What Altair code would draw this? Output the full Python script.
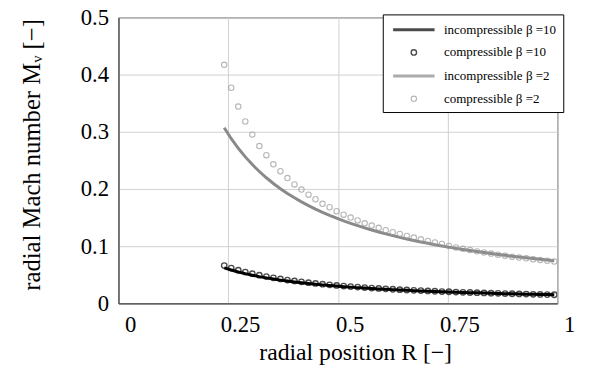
import altair as alt
import pandas as pd

# radial positions R of the sample points
R = [0.241, 0.257, 0.273, 0.289, 0.305, 0.321, 0.337, 0.353, 0.369, 0.385,
     0.401, 0.417, 0.433, 0.449, 0.465, 0.481, 0.497, 0.513, 0.529, 0.545,
     0.561, 0.577, 0.593, 0.609, 0.625, 0.641, 0.657, 0.673, 0.689, 0.705,
     0.721, 0.737, 0.753, 0.769, 0.785, 0.801, 0.817, 0.833, 0.849, 0.865,
     0.881, 0.897, 0.913, 0.929, 0.945, 0.961, 0.977, 0.993]

inc10 = [0.0622, 0.0584, 0.0549, 0.0519, 0.0492, 0.0467, 0.0445, 0.0425, 0.0407, 0.0390,
         0.0374, 0.0360, 0.0346, 0.0334, 0.0323, 0.0312, 0.0302, 0.0292, 0.0284, 0.0275,
         0.0267, 0.0260, 0.0253, 0.0246, 0.0240, 0.0234, 0.0228, 0.0223, 0.0218, 0.0213,
         0.0208, 0.0204, 0.0199, 0.0195, 0.0191, 0.0187, 0.0184, 0.0180, 0.0177, 0.0173,
         0.0170, 0.0167, 0.0164, 0.0161, 0.0159, 0.0156, 0.0154, 0.0151]

comp10 = [0.0660, 0.0618, 0.0581, 0.0548, 0.0519, 0.0492, 0.0468, 0.0446, 0.0427, 0.0408,
          0.0392, 0.0376, 0.0362, 0.0348, 0.0336, 0.0324, 0.0313, 0.0303, 0.0294, 0.0285,
          0.0276, 0.0268, 0.0261, 0.0254, 0.0247, 0.0240, 0.0234, 0.0228, 0.0223, 0.0217,
          0.0212, 0.0207, 0.0203, 0.0198, 0.0194, 0.0190, 0.0186, 0.0182, 0.0178, 0.0175,
          0.0171, 0.0168, 0.0165, 0.0162, 0.0159, 0.0156, 0.0153, 0.0151]

inc2 = [0.3071, 0.2879, 0.2711, 0.2561, 0.2426, 0.2305, 0.2196, 0.2096, 0.2005, 0.1922,
        0.1845, 0.1775, 0.1709, 0.1648, 0.1591, 0.1538, 0.1489, 0.1442, 0.1399, 0.1358,
        0.1319, 0.1282, 0.1248, 0.1215, 0.1184, 0.1154, 0.1126, 0.1100, 0.1074, 0.1050,
        0.1026, 0.1004, 0.0983, 0.0962, 0.0943, 0.0924, 0.0906, 0.0888, 0.0872, 0.0855,
        0.0840, 0.0825, 0.0810, 0.0797, 0.0783, 0.0770, 0.0757, 0.0745]

comp2 = [0.417, 0.377, 0.344, 0.318, 0.295, 0.275, 0.259, 0.243, 0.231, 0.219,
         0.208, 0.199, 0.190, 0.182, 0.174, 0.168, 0.161, 0.155, 0.150, 0.145,
         0.140, 0.136, 0.132, 0.128, 0.1245, 0.1215, 0.118, 0.115, 0.112, 0.109,
         0.1065, 0.104, 0.1005, 0.0978, 0.0954, 0.0931, 0.0909, 0.0890, 0.0870, 0.0852,
         0.0834, 0.0817, 0.0802, 0.0787, 0.0772, 0.0759, 0.0745, 0.0732]

series_names = ["incompressible β =10", "compressible β =10",
                "incompressible β =2", "compressible β =2"]

rows = []
for name, kind, vals in [(series_names[0], "line", inc10),
                         (series_names[1], "point", comp10),
                         (series_names[2], "line", inc2),
                         (series_names[3], "point", comp2)]:
    for r, m in zip(R, vals):
        rows.append({"R": r, "M": m, "series": name, "kind": kind})
df = pd.DataFrame(rows)

FONT = "Liberation Serif"
LINE_SYMBOL = "M-3,0L3,0"

color = alt.Color("series:N", title=None,
                  scale=alt.Scale(domain=series_names, type="ordinal",
                                  range=["#000000", "#000000", "#8a8a8a", "#999999"]))
sw = alt.StrokeWidth("series:N", title=None,
                     scale=alt.Scale(domain=series_names, type="ordinal",
                                     range=[3, 1.4, 3, 1.1]))

x = alt.X("R:Q", title="radial position R [−]",
          scale=alt.Scale(domain=[0, 1], nice=False, zero=False),
          axis=alt.Axis(values=[0, 0.25, 0.5, 0.75, 1],
                        labelExpr="format(datum.value, '.2~f')",
                        labelFont=FONT, titleFont=FONT,
                        labelOffset=12, labelPadding=11, labelFlush=False,
                        titleX=240, titleY=50, titleBaseline="middle",
                        titleAlign="center"))
y = alt.Y("M:Q", title="radial Mach number Mᵥ [−]",
          scale=alt.Scale(domain=[0, 0.5], nice=False),
          axis=alt.Axis(values=[0, 0.1, 0.2, 0.3, 0.4, 0.5],
                        labelExpr="format(datum.value, '.1~f')",
                        labelFont=FONT, titleFont=FONT, titleFontSize=25,
                        labelPadding=10, labelFlush=False,
                        titleX=-88, titleY=139, titleAngle=270,
                        titleBaseline="middle", titleAlign="center"))

lines = alt.Chart(df).transform_filter(alt.datum.kind == "line").mark_line(
    clip=True).encode(x=x, y=y, color=color, strokeWidth=sw, detail="series:N")

points = alt.Chart(df).transform_filter(alt.datum.kind == "point").mark_point(
    filled=False, clip=True).encode(
    x=x, y=y, color=color, strokeWidth=sw,
    shape=alt.Shape("series:N", title=None,
                    scale=alt.Scale(domain=series_names, type="ordinal",
                                    range=[LINE_SYMBOL, "circle", LINE_SYMBOL, "circle"])),
    size=alt.Size("series:N", title=None,
                  scale=alt.Scale(domain=series_names, type="ordinal",
                                  range=[196, 30, 196, 30])))

chart = alt.layer(lines, points).properties(
    width=445, height=290,
    autosize=alt.AutoSizeParams(type="none"),
    padding={"left": 112, "top": 7, "right": 25, "bottom": 60},
).configure(font=FONT).configure_view(stroke="#333333", strokeWidth=1).configure_axis(
    labelFont=FONT, titleFont=FONT, labelFontSize=23, titleFontSize=24,
    labelColor="#000000", titleColor="#000000", titleFontWeight="normal",
    grid=True, gridColor="#d0d0d0", gridWidth=1, ticks=False,
    domainColor="#333333", labelOverlap=False,
).configure_legend(
    orient="none", legendX=268, legendY=-3, fillColor="#ffffff",
    strokeColor="#000000", padding=7, labelFont=FONT, labelFontSize=13.2,
    labelColor="#000000", rowPadding=9, symbolOffset=16, labelOffset=22,
    labelLimit=300,
)

chart.save("out.html", embed_options={"renderer": "svg", "actions": False})
